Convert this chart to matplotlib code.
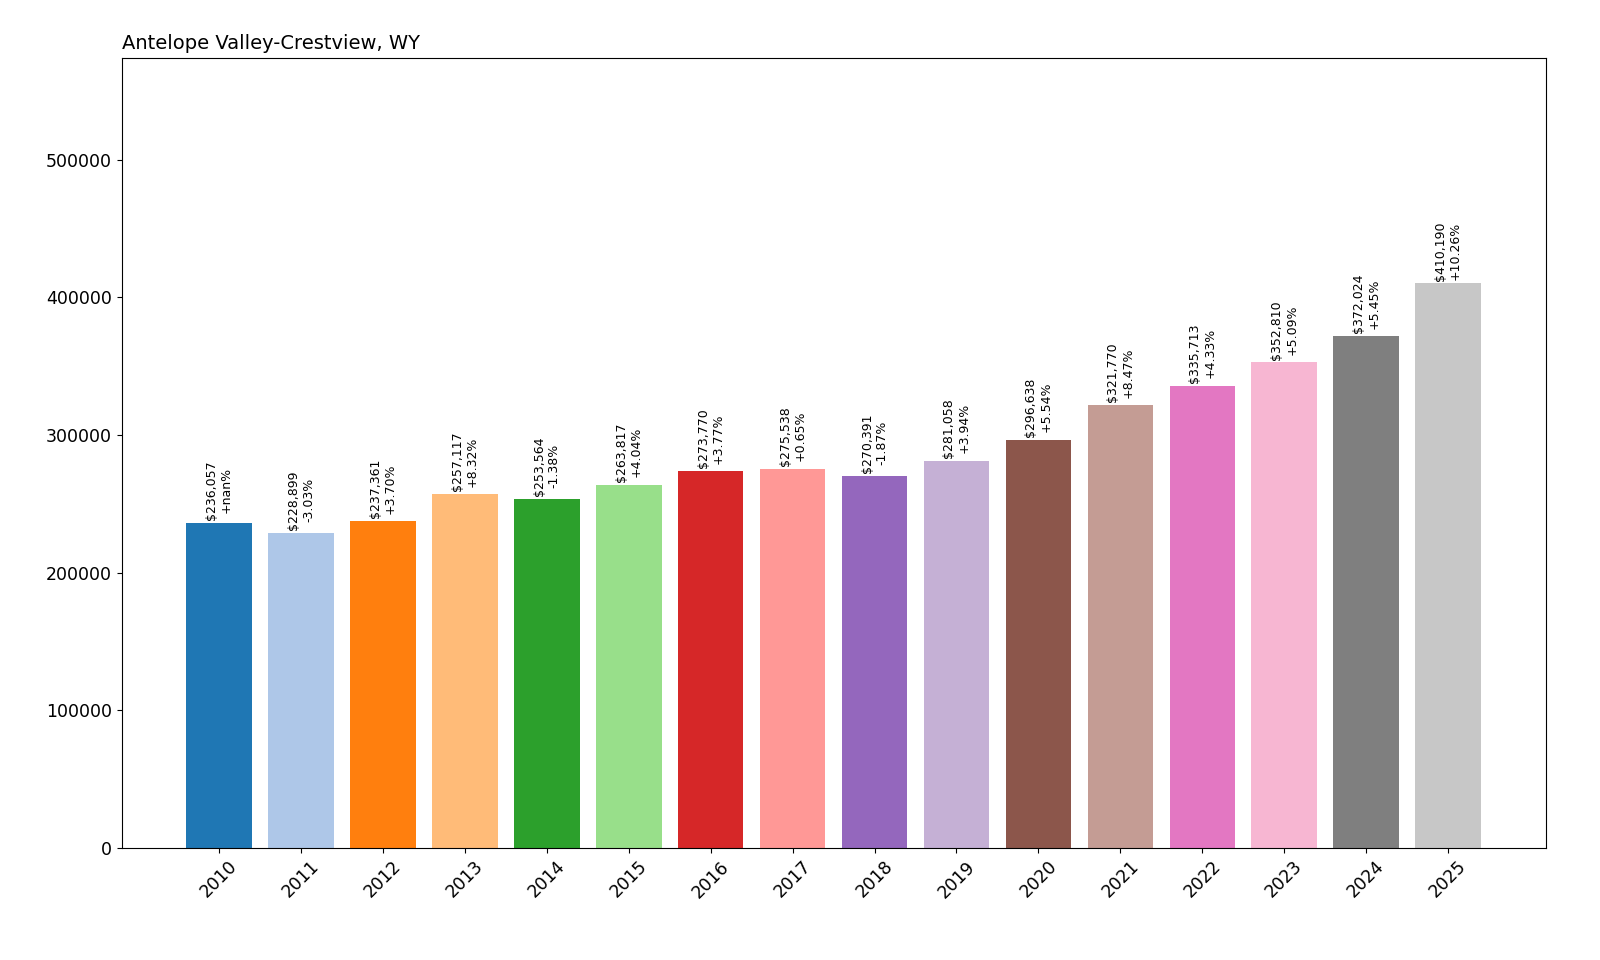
import matplotlib
matplotlib.use("Agg")
import matplotlib.pyplot as plt

years = [str(y) for y in range(2010, 2026)]
values = [236057, 228899, 237361, 257117, 253564, 263817, 273770, 275538,
          270391, 281058, 296638, 321770, 335713, 352810, 372024, 410190]
changes = ["+nan%", "-3.03%", "+3.70%", "+8.32%", "-1.38%", "+4.04%", "+3.77%", "+0.65%",
           "-1.87%", "+3.94%", "+5.54%", "+8.47%", "+4.33%", "+5.09%", "+5.45%", "+10.26%"]

fig = plt.figure(figsize=(16, 9.6), dpi=100)
ax = fig.add_axes([0.076, 0.117, 0.89, 0.823])
colors = plt.cm.tab20.colors
bars = ax.bar(years, values, color=[colors[i % 20] for i in range(len(values))])
for b, v, c in zip(bars, values, changes):
    ax.text(b.get_x() + b.get_width() / 2, v + 2000, f"${v:,}\n{c}",
            rotation=90, ha="center", va="bottom", fontsize=9)
ax.set_ylim(0, max(values) * 1.4)
ax.set_title("Antelope Valley-Crestview, WY", loc="left", fontsize=14)
ax.tick_params(axis="x", rotation=45, labelsize=12.5)
ax.tick_params(axis="y", labelsize=12.5)
fig.savefig("out.png")
